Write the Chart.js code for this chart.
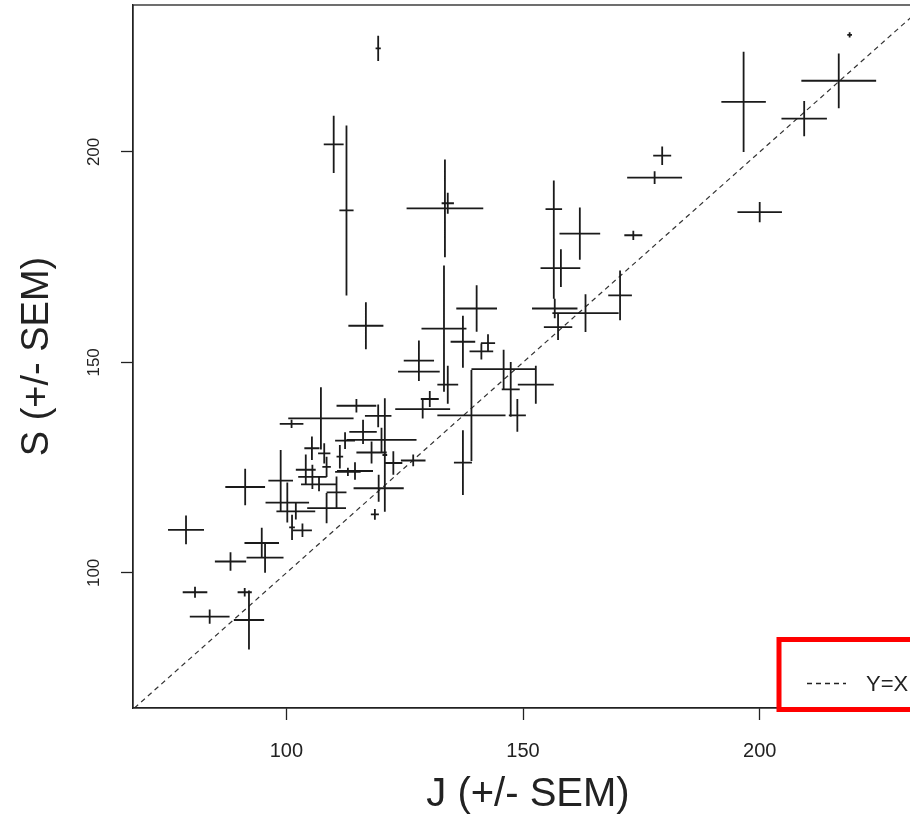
<!DOCTYPE html>
<html>
<head>
<meta charset="utf-8">
<title>S vs J (+/- SEM)</title>
<script src="https://cdn.jsdelivr.net/npm/chart.js@4/dist/chart.umd.min.js"></script>
<style>
  html, body { margin: 0; padding: 0; background: #fff; overflow: hidden; }
  #wrap { width: 930px; height: 818px; }
</style>
</head>
<body>
<div id="wrap"><canvas id="chart"></canvas></div>
<script>
// J / S means with their SEM
const jMean = [119.4, 110.0, 112.7, 116.8, 133.5, 134.1, 133.3, 140.2, 137.3, 142.6,
  141.2, 128.0, 128.0, 134.1, 130.3, 128.8, 139.1, 148.8, 145.9, 152.7,
  147.4, 137.3, 156.5, 162.0, 173.3, 156.5, 158.0, 156.7, 163.2, 170.5,
  157.4, 179.4, 177.8, 196.6, 200.0, 209.4, 216.7, 219.0, 107.3, 101.1,
  114.8, 119.4, 120.1, 120.8, 119.5, 118.7, 126.8, 116.2, 118.0, 122.6,
  114.5, 113.0, 105.4, 108.0, 108.5, 112.4, 111.3, 104.1, 105.5, 106.9,
  110.6, 98.8, 100.2, 102.0, 108.5, 103.4, 101.2, 78.8, 91.3, 88.2,
  94.8, 95.5, 80.7, 91.2, 83.8, 92.1];
const jSem = [0.55, 2.1, 1.5, 3.7, 8.1, 1.3, 4.75, 4.3, 2.6, 1.5,
  2.5, 3.2, 4.4, 2.2, 1.9, 5.8, 7.2, 1.8, 6.8, 3.8,
  1.9, 1.9, 1.75, 4.3, 1.9, 2.8, 4.1, 4.8, 7.0, 2.5,
  3.0, 1.9, 5.8, 4.7, 4.7, 4.8, 7.9, 0.5, 6.9, 2.5,
  4.2, 2.8, 7.4, 0.5, 5.3, 0.85, 2.6, 2.9, 3.2, 1.9,
  3.8, 2.7, 1.6, 1.3, 0.9, 2.1, 0.7, 2.1, 3.0, 3.8,
  2.1, 2.6, 4.6, 4.1, 4.1, 2.0, 0.6, 3.8, 4.2, 3.3,
  3.65, 3.9, 2.6, 1.5, 4.2, 3.2];
const sMean = [224.6, 201.8, 186.1, 158.7, 186.6, 187.8, 158.0, 162.8, 154.9, 154.6,
  152.6, 150.4, 147.8, 144.7, 141.3, 138.9, 137.4, 137.4, 148.4, 144.7,
  143.6, 126.2, 186.4, 180.6, 180.2, 172.4, 172.4, 162.8, 161.7, 165.9,
  158.4, 199.1, 193.9, 211.9, 185.7, 207.9, 216.9, 227.8, 136.7, 135.4,
  139.7, 137.3, 131.6, 128.0, 120.1, 113.9, 126.7, 133.5, 128.6, 126.1,
  124.2, 124.0, 129.6, 128.4, 125.2, 131.4, 127.6, 124.5, 122.8, 121.0,
  119.1, 121.9, 116.7, 114.6, 115.4, 110.1, 110.8, 110.2, 120.4, 102.7,
  107.1, 103.6, 95.4, 95.4, 89.6, 88.8];
const sSem = [3.0, 6.8, 20.2, 5.6, 11.6, 2.5, 15.0, 5.5, 6.2, 2.1,
  1.9, 4.8, 1.0, 4.5, 1.9, 2.2, 10.8, 3.9, 4.6, 4.5,
  6.5, 7.7, 6.8, 6.2, 1.1, 7.3, 4.5, 2.3, 4.5, 5.9,
  3.1, 2.2, 1.5, 11.9, 2.4, 4.2, 6.5, 0.6, 7.4, 1.0,
  1.6, 2.7, 2.9, 13.5, 3.2, 1.3, 1.4, 2.9, 2.6, 2.8,
  2.1, 1.0, 2.8, 2.4, 2.4, 2.0, 2.8, 3.6, 2.9, 1.6,
  3.8, 7.3, 4.75, 1.9, 3.6, 1.6, 3.0, 3.4, 4.35, 2.2,
  3.6, 3.6, 1.3, 1.0, 1.7, 7.0];

const xTicks = [100, 150, 200];
const yTicks = [100, 150, 200];
const xRange = [67.6, 234.5];
const yRange = [67.9, 234.9];
const refLine = [67.9, 234.9];
const refLabel = 'Y=X';

const fontFamily = "'Liberation Sans', Arial, sans-serif";
const ink = '#222';

const crossBars = {
  id: 'crossBars',
  afterDatasetsDraw(chart) {
    const { ctx, chartArea: a, scales: { x, y } } = chart;
    ctx.save();
    ctx.beginPath();
    ctx.rect(a.left, a.top, a.right - a.left, a.bottom - a.top);
    ctx.clip();
    ctx.strokeStyle = '#1a1a1a';
    ctx.lineWidth = 1.8;
    ctx.beginPath();
    jMean.forEach((jv, i) => {
      const px = x.getPixelForValue(jv);
      const py = y.getPixelForValue(sMean[i]);
      ctx.moveTo(x.getPixelForValue(jv - jSem[i]), py);
      ctx.lineTo(x.getPixelForValue(jv + jSem[i]), py);
      ctx.moveTo(px, y.getPixelForValue(sMean[i] - sSem[i]));
      ctx.lineTo(px, y.getPixelForValue(sMean[i] + sSem[i]));
    });
    ctx.stroke();
    ctx.restore();
  }
};

const frameAndLegend = {
  id: 'frameAndLegend',
  afterDraw(chart) {
    const { ctx, chartArea: a } = chart;
    ctx.save();
    ctx.strokeStyle = ink;
    ctx.lineWidth = 1.3;
    ctx.strokeRect(a.left, a.top, a.right - a.left, a.bottom - a.top);

    // legend box, bottom right, over the axis
    const lx = a.right - 144;
    const ly = a.bottom - 68.5;
    ctx.fillStyle = '#fff';
    ctx.fillRect(lx, ly, 160, 70);
    ctx.strokeStyle = '#ff0000';
    ctx.lineWidth = 5;
    ctx.strokeRect(lx, ly, 160, 70);

    ctx.strokeStyle = '#222';
    ctx.lineWidth = 1.4;
    ctx.setLineDash([5, 4]);
    ctx.beginPath();
    ctx.moveTo(lx + 28, ly + 44);
    ctx.lineTo(lx + 67, ly + 44);
    ctx.stroke();
    ctx.setLineDash([]);

    ctx.fillStyle = ink;
    ctx.font = `22px ${fontFamily}`;
    ctx.textAlign = 'left';
    ctx.textBaseline = 'middle';
    ctx.fillText(refLabel, lx + 87, ly + 45);
    ctx.restore();
  }
};

new Chart(document.getElementById('chart'), {
  type: 'scatter',
  data: {
    datasets: [
      {
        label: 'J vs S',
        data: jMean.map((v, i) => ({ x: v, y: sMean[i] })),
        pointRadius: 0,
        showLine: false,
      },
      {
        type: 'line',
        label: refLabel,
        data: refLine.map((v) => ({ x: v, y: v })),
        borderColor: '#333',
        borderWidth: 1.2,
        borderDash: [5, 4],
        pointRadius: 0,
        fill: false,
      },
    ],
  },
  options: {
    responsive: true,
    maintainAspectRatio: false,
    animation: false,
    layout: { padding: { top: 5, right: 7, left: 0, bottom: 0 } },
    plugins: { legend: { display: false }, tooltip: { enabled: false } },
    scales: {
      x: {
        type: 'linear',
        min: xRange[0],
        max: xRange[1],
        afterBuildTicks: (s) => { s.ticks = xTicks.map((v) => ({ value: v })); },
        afterFit: (s) => { s.height = 110; s.paddingLeft = 0; s.paddingRight = 0; },
        grid: { drawOnChartArea: false, drawTicks: true, tickLength: 12, tickColor: ink, tickWidth: 1.3 },
        border: { display: true, color: ink, width: 1.3 },
        ticks: { color: ink, padding: 19, maxRotation: 0, font: { family: fontFamily, size: 20 } },
        title: {
          display: true,
          text: 'J (+/- SEM)',
          color: ink,
          font: { family: fontFamily, size: 40, lineHeight: 1 },
          padding: { top: 0, bottom: 3 },
        },
      },
      y: {
        type: 'linear',
        min: yRange[0],
        max: yRange[1],
        afterBuildTicks: (s) => { s.ticks = yTicks.map((v) => ({ value: v })); },
        afterFit: (s) => { s.width = 133; s.paddingTop = 0; s.paddingBottom = 0; },
        grid: { drawOnChartArea: false, drawTicks: true, tickLength: 12, tickColor: ink, tickWidth: 1.3 },
        border: { display: true, color: ink, width: 1.3 },
        ticks: { color: ink, padding: 13, minRotation: 90, maxRotation: 90, crossAlign: 'center', font: { family: fontFamily, size: 17 } },
        title: {
          display: true,
          text: 'S (+/- SEM)',
          color: ink,
          font: { family: fontFamily, size: 38, lineHeight: 1 },
          padding: { top: 19, bottom: 0 },
        },
      },
    },
  },
  plugins: [crossBars, frameAndLegend],
});
</script>
</body>
</html>
